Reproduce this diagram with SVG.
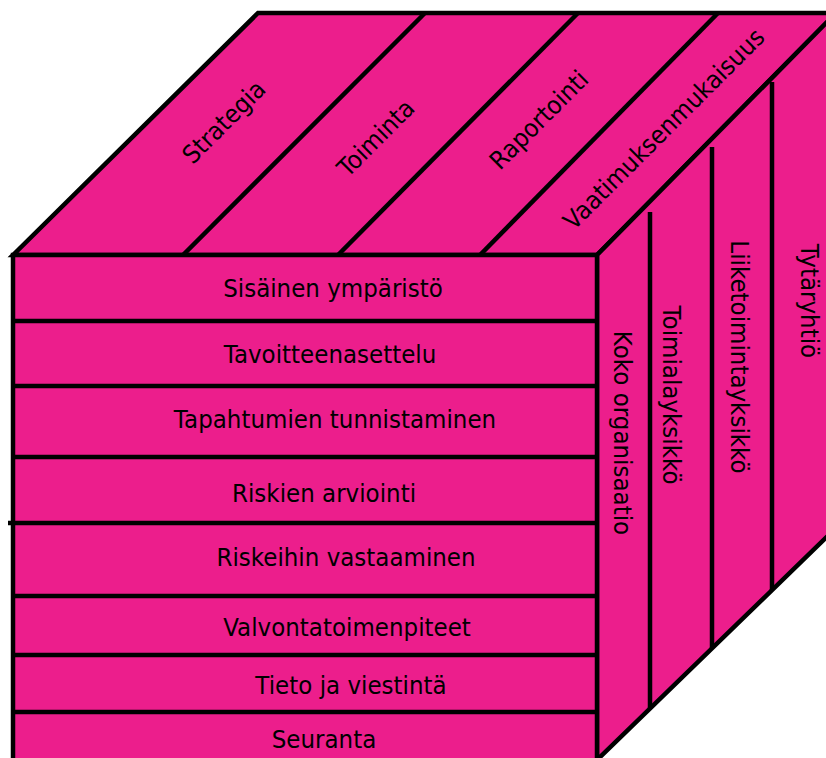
<svg xmlns="http://www.w3.org/2000/svg" width="826" height="758" viewBox="0 0 826 758">
<style>
.face{fill:#EC1E8C;stroke:#000;stroke-width:4.5;stroke-linejoin:miter}
.ln{stroke:#000;stroke-width:4.5;fill:none;stroke-linecap:butt}
.t{font-family:"DejaVu Sans","Liberation Sans",sans-serif;font-size:25px;fill:#000;text-anchor:middle}
</style>
<rect width="826" height="758" fill="#fff"/>
<g id="faces">
<polygon id="top-face" class="face" points="13,255 258,13 836,13 597,255"/>
<polygon id="right-face" class="face" points="597,255 836,13 836,528 597,760"/>
<rect id="front-face" class="face" x="13" y="255" width="584" height="520"/>
</g>
<g id="connectors">
<line class="ln" x1="183" y1="255" x2="425" y2="13"/>
<line class="ln" x1="338" y1="255" x2="578" y2="13"/>
<line class="ln" x1="480" y1="255" x2="718" y2="13"/>
<line class="ln" x1="13" y1="321" x2="597" y2="321"/>
<line class="ln" x1="13" y1="386" x2="597" y2="386"/>
<line class="ln" x1="13" y1="457" x2="597" y2="457"/>
<line class="ln" x1="8" y1="523" x2="597" y2="523"/>
<line class="ln" x1="13" y1="596" x2="597" y2="596"/>
<line class="ln" x1="13" y1="655" x2="597" y2="655"/>
<line class="ln" x1="13" y1="712" x2="597" y2="712"/>
<line class="ln" x1="650" y1="212" x2="650" y2="708"/>
<line class="ln" x1="712" y1="147" x2="712" y2="648"/>
<line class="ln" x1="772" y1="82" x2="772" y2="590"/>
</g>
<g id="top-labels">
<g id="strategia"><text class="t" transform="translate(230,128) rotate(-45) scale(0.92,1)">Strategia</text></g>
<g id="toiminta"><text class="t" transform="translate(382,144) rotate(-45) scale(0.92,1)">Toiminta</text></g>
<g id="raportointi"><text class="t" transform="translate(545,126) rotate(-45) scale(0.92,1)">Raportointi</text></g>
<g id="vaatimuksenmukaisuus"><text class="t" transform="translate(670,135) rotate(-45) scale(0.92,1)">Vaatimuksenmukaisuus</text></g>
</g>
<g id="front-labels">
<g id="n1"><text class="t" transform="translate(333,297) scale(0.92,1)">Sisäinen ympäristö</text></g>
<g id="n2"><text class="t" transform="translate(330,363) scale(0.92,1)">Tavoitteenasettelu</text></g>
<g id="n3"><text class="t" transform="translate(335,428) scale(0.92,1)">Tapahtumien tunnistaminen</text></g>
<g id="n4"><text class="t" transform="translate(324,502) scale(0.92,1)">Riskien arviointi</text></g>
<g id="n5"><text class="t" transform="translate(346,566) scale(0.92,1)">Riskeihin vastaaminen</text></g>
<g id="n6"><text class="t" transform="translate(347,636) scale(0.92,1)">Valvontatoimenpiteet</text></g>
<g id="n7"><text class="t" transform="translate(351,694) scale(0.92,1)">Tieto ja viestintä</text></g>
<g id="n8"><text class="t" transform="translate(324,748) scale(0.92,1)">Seuranta</text></g>
</g>
<g id="side-labels">
<g id="koko"><text class="t" transform="translate(614,433) rotate(90) scale(0.92,1)">Koko organisaatio</text></g>
<g id="toimiala"><text class="t" transform="translate(663,395) rotate(90) scale(0.92,1)">Toimialayksikkö</text></g>
<g id="liike"><text class="t" transform="translate(731,357) rotate(90) scale(0.92,1)">Liiketoimintayksikkö</text></g>
<g id="tytar"><text class="t" transform="translate(801,301) rotate(90) scale(0.92,1)">Tytäryhtiö</text></g>
</g>
</svg>
